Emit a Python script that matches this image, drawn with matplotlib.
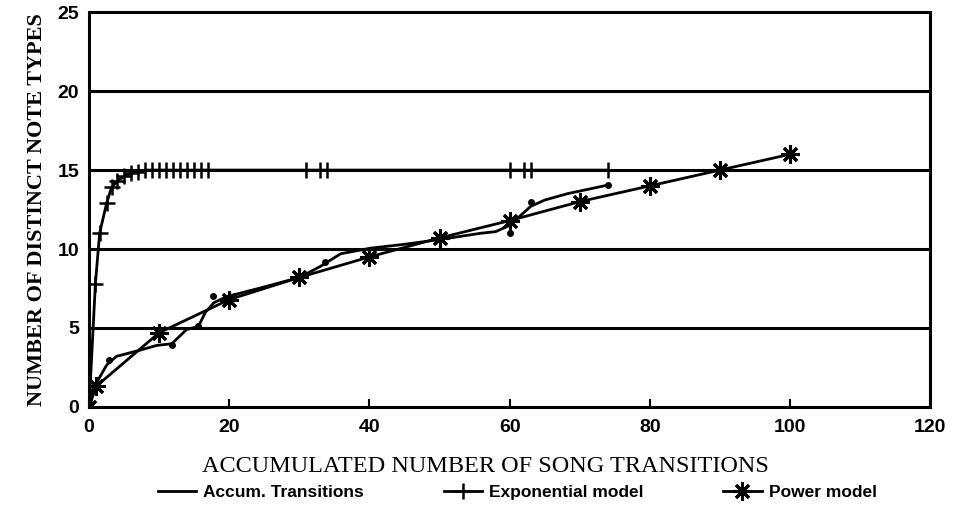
import matplotlib as mpl
mpl.use('agg')
import matplotlib.pyplot as plt
import numpy as np

# accumulated transitions (smooth curve as traced) and its point markers
accum_x = [0, 0.9, 1.8, 2.5, 3.9, 7.3, 9.7, 11.8, 13.9, 15.6, 16.6, 17.8, 19.7, 21.1,
           25, 30, 33, 35.9, 40.1, 45, 50, 55.9, 58, 60, 61.5, 63, 65, 68.2, 74]
accum_y = [0, 1.4, 2.1, 2.65, 3.2, 3.6, 3.9, 4.0, 4.9, 5.1, 6.0, 6.6, 7.0, 7.15,
           7.6, 8.2, 8.9, 9.7, 10.05, 10.3, 10.6, 11.0, 11.1, 11.5, 12.1, 12.7, 13.1, 13.5, 14.05]
accum_dot_x = [2.9, 11.8, 15.6, 17.7, 33.7, 60, 63.1, 74]
accum_dot_y = [3.0, 3.9, 5.1, 7.0, 9.2, 11.0, 13.0, 14.05]

# exponential model
expo_x = [0, 0.9, 1.5, 2.5, 3.2, 4, 5, 6, 7, 8, 9, 10, 11, 12, 13, 14, 15, 16, 17,
          31, 33, 34, 60, 62, 63, 74]
expo_y = [0, 7.8, 11.0, 12.9, 13.9, 14.3, 14.6, 14.8, 14.9, 15, 15, 15, 15, 15, 15, 15, 15, 15, 15,
          15, 15, 15, 15, 15, 15, 15]

# power model
power_x = [0, 1, 10, 20, 30, 40, 50, 60, 70, 80, 90, 100]
power_y = [0, 1.3, 4.7, 6.8, 8.2, 9.5, 10.7, 11.8, 13.0, 14.0, 15.0, 16.0]

fig = plt.figure(figsize=(9.58, 5.08), dpi=100)
ax = fig.add_axes([0.093, 0.199, 0.878, 0.777])

for yy in [5, 10, 15, 20]:
	ax.axhline(yy, color='black', lw=2.2, zorder=1)

ax.plot(accum_x, accum_y, color='black', lw=2, label='Accum. Transitions', zorder=3)
ax.plot(accum_dot_x, accum_dot_y, 'o', color='black', ms=4, zorder=3)
ax.plot(expo_x, expo_y, color='black', lw=2, marker='+', ms=11, mew=1.8,
	label='Exponential model', zorder=3)
ax.plot(power_x, power_y, color='black', lw=2, marker=(8, 2, 0), ms=13, mew=2.2,
	label='Power model', zorder=3)

ax.set_xlim(0, 120)
ax.set_ylim(0, 25)
ax.set_xticks(range(0, 121, 20))
ax.set_yticks(range(0, 26, 5))
ax.tick_params(axis='x', direction='in', length=6, width=1.5, pad=9)
ax.tick_params(axis='y', length=0, pad=7)
for lab in ax.get_xticklabels() + ax.get_yticklabels():
	lab.set_fontfamily('Liberation Sans')
	lab.set_fontweight('bold')
	lab.set_fontsize(14)
for sp in ax.spines.values():
	sp.set_linewidth(2.2)

ax.set_xlabel('ACCUMULATED NUMBER OF SONG TRANSITIONS', fontfamily='Liberation Serif',
	fontsize=17.5)
ax.xaxis.set_label_coords(0.471, -0.125)
ax.set_ylabel('NUMBER OF DISTINCT NOTE TYPES', fontfamily='Liberation Serif',
	fontweight='bold', fontsize=16, labelpad=8)

fig.legend(loc='lower center', bbox_to_anchor=(0.54, -0.015), ncol=3, frameon=False,
	handlelength=2.2, columnspacing=4.6, handletextpad=0.4,
	prop={'family': 'Liberation Sans', 'weight': 'bold', 'size': 12.5})

fig.savefig('out.png', dpi=100)
